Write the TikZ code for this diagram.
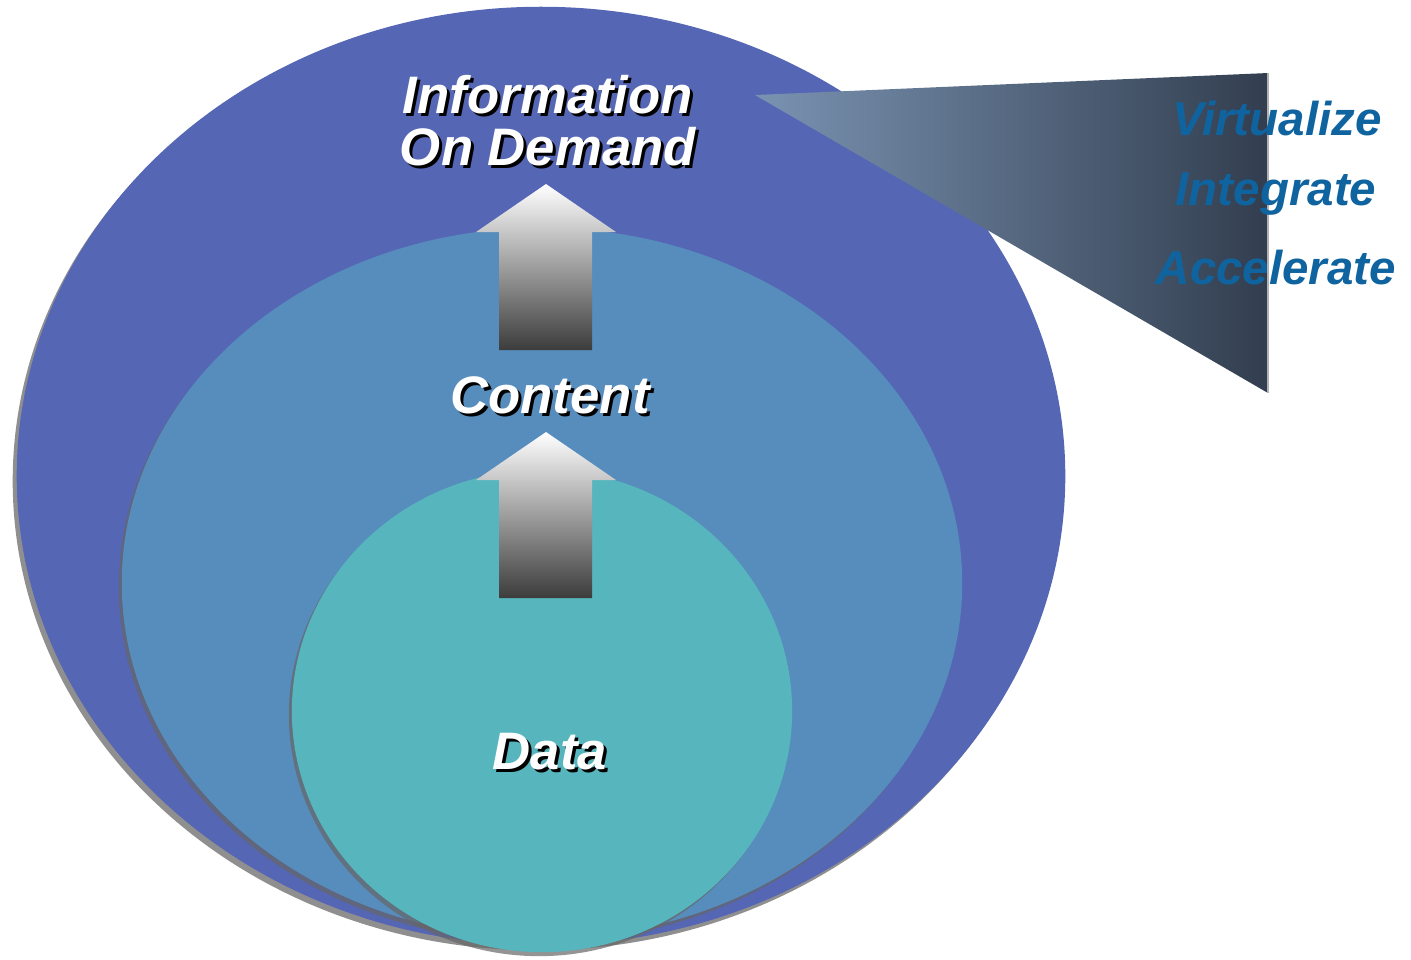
\documentclass[tikz,border=0pt]{standalone}
\usepackage{fontspec}
\setmainfont{Liberation Sans}
\usetikzlibrary{shapes.geometric}
\definecolor{outerc}{HTML}{5566B5}
\definecolor{midc}{HTML}{568DBD}
\definecolor{innerc}{HTML}{56B5BD}
\definecolor{funL}{HTML}{7A93B2}
\definecolor{funR}{HTML}{323E4F}
\definecolor{verbc}{HTML}{0F64A0}
\definecolor{arrowbot}{HTML}{3C3C3C}
\tikzset{
  shadowfill/.style={fill=black!55, opacity=0.8},
  uparrow/.style={top color=white, bottom color=arrowbot, draw=none},
  wtext/.style={font=\bfseries\itshape\fontsize{15}{15}\selectfont, text=white, inner sep=0pt},
  stext/.style={font=\bfseries\itshape\fontsize{15}{15}\selectfont, text=black, inner sep=0pt},
  verb/.style={font=\bfseries\itshape\fontsize{13.5}{13.5}\selectfont, text=verbc, inner sep=0pt}
}
\begin{document}
\begin{tikzpicture}[x=0.01cm, y=-0.01cm]
\useasboundingbox (0,0) rectangle (1411,959);
% outer
\fill[shadowfill] (537,481) ellipse [x radius=5.24cm, y radius=4.69cm];
\fill[outerc] (541,476) ellipse [x radius=5.24cm, y radius=4.69cm];
% funnel
\shade[left color=funL, right color=funR] (755,95) -- (1268,73) -- (1268,393) -- cycle;
\draw[gray!60, line width=0.4pt] (1268,73) -- (1268,393);
% middle
\fill[black!60, opacity=0.7] (539,587) ellipse [x radius=4.20cm, y radius=3.55cm];
\fill[midc] (542,583) ellipse [x radius=4.20cm, y radius=3.55cm];
% inner
\fill[black!60, opacity=0.7] (539,715) ellipse [x radius=2.50cm, y radius=2.41cm];
\fill[innerc] (542,711) ellipse [x radius=2.50cm, y radius=2.41cm];
% arrows
\shade[uparrow] (499,350) -- (499,232) -- (476,232) -- (546,184) -- (616,232) -- (592,232) -- (592,350) -- cycle;
\shade[uparrow] (499,598) -- (499,480) -- (476,480) -- (546,432) -- (616,480) -- (592,480) -- (592,598) -- cycle;
% texts
\node[stext] (infoS) at (551,98) {Information};
\node[wtext] (info) at (548,95) {Information};
\node[stext] (odS) at (551,150) {On Demand};
\node[wtext] (od) at (548,147) {On Demand};
\node[stext] (contS) at (553,398) {Content};
\node[wtext] (cont) at (550,395) {Content};
\node[stext] (dataS) at (553,755) {Data};
\node[wtext] (data) at (550,752) {Data};
\node[verb] (virt) at (1277,119) {Virtualize};
\node[verb] (integ) at (1276,194) {Integrate};
\node[verb] (acc) at (1276,268) {Accelerate};
\end{tikzpicture}
\end{document}
